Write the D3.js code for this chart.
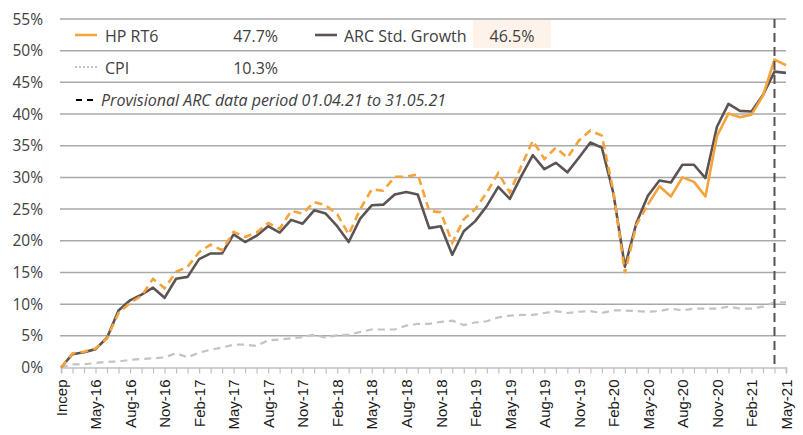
<!DOCTYPE html>
<html>
<head>
<meta charset="utf-8">
<script src="https://cdnjs.cloudflare.com/ajax/libs/d3/7.8.5/d3.min.js"></script>
<style>
  body { margin: 0; background: #fff; }
  .chartWrap { width: 803px; height: 435px; }
</style>
</head>
<body>
<div class="chartWrap"></div>
<script>
var months = ['Incep',
  'Mar-16','Apr-16','May-16','Jun-16','Jul-16','Aug-16','Sep-16','Oct-16','Nov-16','Dec-16',
  'Jan-17','Feb-17','Mar-17','Apr-17','May-17','Jun-17','Jul-17','Aug-17','Sep-17','Oct-17','Nov-17','Dec-17',
  'Jan-18','Feb-18','Mar-18','Apr-18','May-18','Jun-18','Jul-18','Aug-18','Sep-18','Oct-18','Nov-18','Dec-18',
  'Jan-19','Feb-19','Mar-19','Apr-19','May-19','Jun-19','Jul-19','Aug-19','Sep-19','Oct-19','Nov-19','Dec-19',
  'Jan-20','Feb-20','Mar-20','Apr-20','May-20','Jun-20','Jul-20','Aug-20','Sep-20','Oct-20','Nov-20','Dec-20',
  'Jan-21','Feb-21','Mar-21','Apr-21','May-21'];

var hpRT6 = [0, 2.2, 2.5, 3.0, 4.6, 8.6, 10.2, 11.3, 14.0, 12.5, 15.1,
  15.9, 18.2, 19.4, 18.5, 21.4, 20.6, 21.3, 22.8, 21.9, 24.7, 24.3, 26.1,
  25.6, 24.2, 21.0, 25.0, 28.1, 27.9, 30.1, 30.1, 30.5, 24.7, 24.5, 19.7,
  23.4, 25.0, 27.6, 30.7, 27.6, 31.8, 35.8, 32.9, 34.7, 33.1, 35.8, 37.4,
  36.6, 27.8, 14.9, 22.5, 25.7, 28.6, 27.0, 30.0, 29.3, 27.0, 36.5, 40.1,
  39.5, 39.9, 42.9, 48.6, 47.7];

var arcGrowth = [0, 2.1, 2.4, 2.9, 4.7, 9.0, 10.6, 11.5, 12.6, 11.0, 14.0,
  14.3, 17.1, 18.0, 18.0, 21.0, 19.8, 20.8, 22.3, 21.3, 23.3, 22.7, 24.8,
  24.3, 22.3, 19.8, 23.5, 25.6, 25.7, 27.3, 27.7, 27.3, 22.0, 22.3, 17.8,
  21.5, 23.1, 25.5, 28.5, 26.6, 30.2, 33.5, 31.3, 32.3, 30.8, 33.1, 35.5,
  34.7, 27.5, 15.9, 22.8, 27.1, 29.5, 29.2, 32.0, 32.0, 29.9, 38.0, 41.6,
  40.5, 40.4, 43.0, 46.7, 46.5];

var cpi = [0, 0.5, 0.5, 0.7, 0.9, 0.95, 1.2, 1.35, 1.45, 1.6, 2.25,
  1.6, 2.35, 2.8, 3.15, 3.6, 3.6, 3.4, 4.3, 4.4, 4.6, 4.8, 5.2,
  4.7, 5.1, 5.2, 5.6, 6.0, 6.0, 6.0, 6.6, 6.9, 6.9, 7.2, 7.4,
  6.7, 7.1, 7.3, 7.9, 8.2, 8.3, 8.3, 8.6, 8.9, 8.6, 8.8, 8.9,
  8.6, 9.0, 9.0, 8.9, 8.8, 8.9, 9.3, 9.0, 9.3, 9.3, 9.3, 9.6,
  9.3, 9.3, 9.6, 10.3, 10.3];

var yTicks = [0, 5, 10, 15, 20, 25, 30, 35, 40, 45, 50, 55];

// simulated (dashed) part of HP RT6 runs up to this category, live data after
var hpLiveFrom = 'May-20';
var provisionalMonth = 'Apr-21';

var legendRows = [
  {name: 'HP RT6', value: '47.7%'},
  {name: 'ARC Std. Growth', value: '46.5%'},
  {name: 'CPI', value: '10.3%'}
];

perfChart = {

  init: function(){
    self = this;
    self.width = 803;
    self.height = 435;
    self.left = 61;
    self.right = 786;
    self.top = 19;
    self.bottom = 367.5;
    self.colors = {hp: '#f5a33b', arc: '#5d5352', cpi: '#c3c3c3', grid: '#a9a9a9', axis: '#c0c0c0', text: '#404040'};

    self.x = d3.scalePoint().domain(months).range([self.left, self.right]);
    self.y = d3.scaleLinear().domain([0, 55]).range([self.bottom, self.top]);

    self.svg = d3.select('.chartWrap')
      .append('svg')
      .attr('width', self.width)
      .attr('height', self.height);

    self.drawGrid();
    self.drawAxes();
    self.drawLines();
    self.drawLegend();
  },

  drawGrid: function(){
    self.svg.selectAll('.grid')
      .data(yTicks.filter(function(d){ return d > 0; }))
      .enter()
        .append('line')
        .attr('class', 'grid')
        .attr('x1', self.left - 1)
        .attr('x2', self.right)
        .attr('y1', function(d){ return self.y(d); })
        .attr('y2', function(d){ return self.y(d); })
        .style('stroke', self.colors.grid)
        .style('stroke-width', 1.5);
  },

  drawAxes: function(){
    // y labels
    self.svg.selectAll('.yLabel')
      .data(yTicks)
      .enter()
        .append('text')
        .attr('class', 'yLabel')
        .attr('x', 43)
        .attr('y', function(d){ return self.y(d); })
        .attr('dy', '0.36em')
        .attr('text-anchor', 'end')
        .style('font-family', '"Open Sans", sans-serif')
        .style('font-size', '15.5px')
        .style('fill', self.colors.text)
        .text(function(d){ return d + '%'; });

    // x axis with a tick per month, label every 3rd
    var xAxis = d3.axisBottom(self.x)
      .tickSize(6)
      .tickFormat(function(d, i){ return i % 3 === 0 ? d : ''; });

    var g = self.svg.append('g')
      .attr('transform', 'translate(0,' + self.bottom + ')')
      .call(xAxis);

    g.select('.domain').style('stroke', self.colors.axis).style('stroke-width', 1.5);
    g.selectAll('.tick line').style('stroke', self.colors.axis).style('stroke-width', 1.2);
    g.selectAll('.tick text')
      .attr('transform', 'translate(0,12) rotate(-90)')
      .attr('x', 0)
      .attr('y', 0)
      .attr('dy', '0.35em')
      .attr('text-anchor', 'end')
      .style('font-family', '"Liberation Sans", Arial, sans-serif')
      .style('font-size', '15px')
      .style('fill', '#1a1a1a');
  },

  drawLines: function(){
    var line = d3.line()
      .x(function(d){ return self.x(d.m); })
      .y(function(d){ return self.y(d.v); });

    function pts(arr){
      return arr.map(function(v, i){ return {m: months[i], v: v}; });
    }

    var liveIdx = months.indexOf(hpLiveFrom);
    var hpPts = pts(hpRT6);

    self.svg.append('path')
      .datum(pts(cpi))
      .attr('d', line)
      .style('fill', 'none')
      .style('stroke', self.colors.cpi)
      .style('stroke-width', 2.2)
      .style('stroke-dasharray', '7,5');

    self.svg.append('path')
      .datum(pts(arcGrowth))
      .attr('d', line)
      .style('fill', 'none')
      .style('stroke', self.colors.arc)
      .style('stroke-width', 2.6)
      .style('stroke-linejoin', 'round');

    self.svg.append('path')
      .datum(hpPts.slice(0, liveIdx + 1))
      .attr('d', line)
      .style('fill', 'none')
      .style('stroke', self.colors.hp)
      .style('stroke-width', 2.6)
      .style('stroke-dasharray', '8,5');

    self.svg.append('path')
      .datum(hpPts.slice(liveIdx))
      .attr('d', line)
      .style('fill', 'none')
      .style('stroke', self.colors.hp)
      .style('stroke-width', 2.6)
      .style('stroke-linejoin', 'round');

    var px = self.x(provisionalMonth);
    self.svg.append('line')
      .attr('x1', px).attr('x2', px)
      .attr('y1', self.top).attr('y2', self.bottom)
      .style('stroke', '#5a5050')
      .style('stroke-width', 2)
      .style('stroke-dasharray', '9,5');
  },

  drawLegend: function(){
    var font = '"Open Sans", sans-serif';
    var lg = self.svg.append('g').attr('class', 'legend');

    // highlight behind ARC value
    lg.append('rect')
      .attr('x', 473).attr('y', 20)
      .attr('width', 78).attr('height', 28)
      .style('fill', '#fdf3ea');

    function sample(x, y, color, dash, w){
      lg.append('line')
        .attr('x1', x).attr('x2', x + 22)
        .attr('y1', y).attr('y2', y)
        .style('stroke', color)
        .style('stroke-width', w)
        .style('stroke-dasharray', dash);
    }
    function label(x, y, txt, anchor, italic){
      lg.append('text')
        .attr('x', x).attr('y', y)
        .attr('text-anchor', anchor || 'start')
        .style('font-family', font)
        .style('font-size', '16px')
        .style('font-style', italic ? 'italic' : 'normal')
        .style('fill', self.colors.text)
        .text(txt);
    }

    sample(75, 35, self.colors.hp, 'none', 2.6);
    label(105, 42, legendRows[0].name);
    label(278, 42, legendRows[0].value, 'end');

    sample(315, 35, self.colors.arc, 'none', 2.6);
    label(344, 42, legendRows[1].name);
    label(512, 42, legendRows[1].value, 'middle');

    sample(75, 67, self.colors.cpi, '2,2', 2);
    label(105, 74, legendRows[2].name);
    label(278, 74, legendRows[2].value, 'end');

    sample(76, 100, '#000', '6,5', 2);
    label(101, 106, 'Provisional ARC data period 01.04.21 to 31.05.21', 'start', true);
  }
};

perfChart.init();
</script>
</body>
</html>
